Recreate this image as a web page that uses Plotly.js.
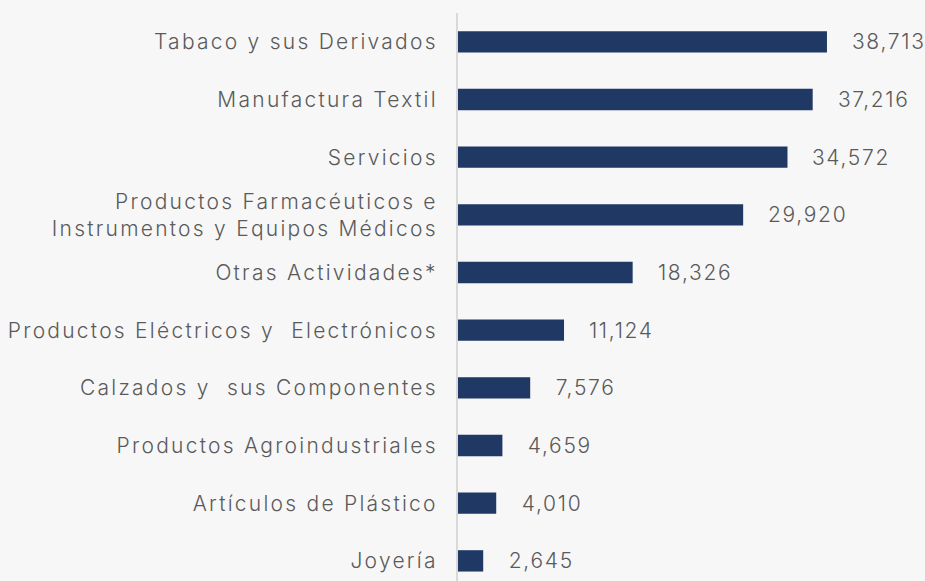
<!DOCTYPE html>
<html>
<head>
<meta charset="utf-8">
<script src="https://cdn.plot.ly/plotly-3.0.1.min.js"></script>
<style>
html,body{margin:0;padding:0;background:#f7f7f7;}
#chart{width:925px;height:581px;}
#chart .ytick text{letter-spacing:2.25px;}
#chart .annotation-text{letter-spacing:1.7px;}
</style>
</head>
<body>
<div id="chart"></div>
<script>
const categories = [
  "Tabaco y sus Derivados",
  "Manufactura Textil",
  "Servicios",
  "Productos Farmacéuticos e<br>Instrumentos y Equipos Médicos",
  "Otras Actividades*",
  "Productos Eléctricos y\u00a0 Electrónicos",
  "Calzados y\u00a0 sus Componentes",
  "Productos Agroindustriales",
  "Artículos de Plástico",
  "Joyería"
];
const values = [38713, 37216, 34572, 29920, 18326, 11124, 7576, 4659, 4010, 2645];
const valueLabels = ["38,713", "37,216", "34,572", "29,920", "18,326", "11,124", "7,576", "4,659", "4,010", "2,645"];

const fontFamily = "Inter, 'Open Sans', sans-serif";
const textColor = "#5a5a5a";

const trace = {
  type: "bar",
  orientation: "h",
  x: values,
  y: categories,
  marker: {color: "#1f3864"},
  width: 0.37,
  hoverinfo: "skip"
};

const annotations = categories.map((c, i) => ({
  x: values[i],
  y: c,
  xref: "x",
  yref: "y",
  text: valueLabels[i],
  showarrow: false,
  xanchor: "left",
  xshift: 28,
  font: {family: fontFamily, size: 21, color: textColor, weight: 300}
}));

const layout = {
  width: 925,
  height: 581,
  paper_bgcolor: "#f7f7f7",
  plot_bgcolor: "#f7f7f7",
  margin: {l: 458, r: 0, t: 13, b: 0},
  showlegend: false,
  xaxis: {
    range: [0, 49000],
    visible: false,
    showgrid: false,
    zeroline: false
  },
  yaxis: {
    type: "category",
    categoryorder: "array",
    categoryarray: categories,
    range: [9.349, -0.5],
    showline: true,
    linecolor: "#d9d9d9",
    linewidth: 2,
    showgrid: false,
    zeroline: false,
    ticks: "outside",
    ticklen: 14,
    tickcolor: "rgba(0,0,0,0)",
    tickfont: {family: fontFamily, size: 21, color: textColor, weight: 300}
  },
  annotations: annotations
};

Plotly.newPlot("chart", [trace], layout, {displayModeBar: false, staticPlot: true});
</script>
</body>
</html>
